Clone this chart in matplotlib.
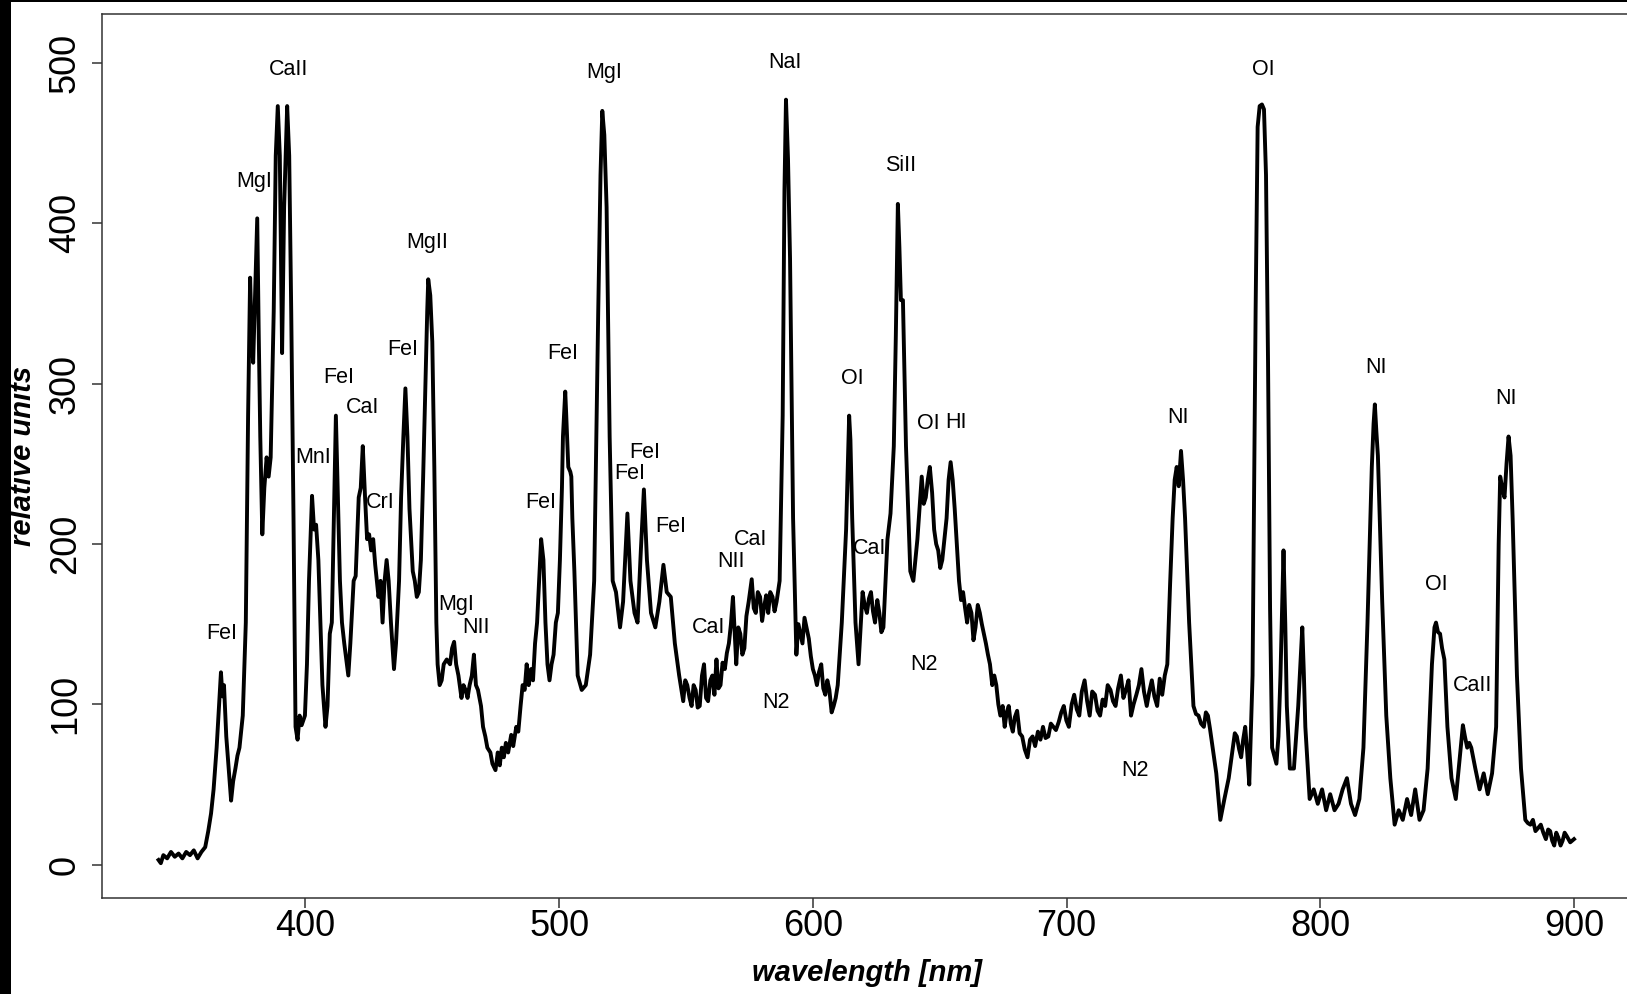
import matplotlib
matplotlib.use("Agg")
import matplotlib.pyplot as plt
from matplotlib.patches import Rectangle

plt.rcParams['font.family'] = ['Liberation Sans', 'DejaVu Sans']

wavelength = [
    342.1, 343.0, 344.0, 345.5, 347.0, 348.5, 350.0, 351.5, 353.0, 354.5, 356.0, 357.5, 359.0, 360.5,
    361.7, 362.8, 363.8, 365.0, 366.0, 366.7, 367.3, 367.9, 368.8, 370.0, 370.7, 371.5, 372.4, 373.2,
    374.0, 375.3, 376.5, 377.4, 378.2, 378.8, 379.4, 380.2, 381.0, 381.6, 382.2, 383.0, 383.8, 384.7,
    385.5, 386.3, 387.5, 388.3, 389.1, 389.9, 390.8, 391.6, 392.8, 393.6, 394.4, 395.3, 396.1, 396.9,
    397.7, 398.5, 399.8, 400.6, 401.4, 402.6, 403.4, 404.2, 405.1, 405.9, 406.7, 407.9, 408.7, 409.6,
    410.4, 411.2, 412.0, 412.8, 413.6, 414.4, 415.3, 416.1, 416.9, 417.7, 419.0, 419.8, 421.0, 421.8,
    422.6, 423.5, 424.3, 425.1, 425.9, 426.7, 427.5, 428.8, 429.6, 430.4, 431.2, 432.0, 432.8, 433.7,
    434.9, 435.7, 436.9, 437.7, 438.6, 439.4, 440.2, 441.0, 442.3, 443.1, 443.9, 444.7, 445.5, 446.4,
    447.2, 448.0, 448.4, 449.2, 450.0, 450.8, 451.6, 452.1, 452.9, 453.7, 454.5, 455.7, 457.0, 457.8,
    458.6, 459.4, 460.3, 461.5, 462.3, 463.1, 463.9, 464.7, 465.6, 466.4, 467.2, 468.0, 469.2, 470.0,
    470.9, 471.7, 472.9, 473.7, 474.9, 475.8, 476.6, 477.4, 478.2, 479.0, 479.9, 481.1, 481.9, 483.1,
    483.9, 484.8, 485.6, 486.4, 487.2, 488.0, 488.9, 489.7, 490.5, 491.3, 492.1, 492.9, 493.8, 494.6,
    495.4, 496.2, 497.0, 497.8, 498.7, 499.5, 500.3, 501.1, 501.5, 502.4, 502.8, 503.6, 504.4, 504.8,
    505.2, 506.0, 507.3, 508.9, 510.5, 512.2, 513.8, 515.4, 516.3, 517.0, 517.8, 518.7, 519.9, 521.1,
    522.4, 524.0, 525.2, 526.9, 528.1, 529.7, 530.9, 532.2, 533.4, 534.6, 536.2, 537.9, 539.5, 541.1,
    542.4, 544.0, 545.6, 547.3, 548.9, 549.7, 550.5, 551.4, 552.2, 553.0, 553.8, 554.6, 555.4, 556.3,
    557.1, 557.9, 558.7, 559.6, 560.4, 561.2, 562.0, 562.8, 563.6, 564.4, 565.3, 566.1, 566.9, 567.7,
    568.5, 569.8, 570.6, 571.4, 572.2, 573.0, 573.8, 574.7, 575.9, 576.7, 577.5, 578.3, 579.2, 580.0,
    580.8, 581.6, 582.4, 583.2, 584.1, 584.9, 585.7, 586.9, 588.1, 588.8, 589.4, 590.2, 591.0, 592.2,
    593.5, 594.3, 595.1, 595.9, 596.7, 597.5, 598.4, 599.2, 600.0, 600.8, 601.6, 602.4, 603.3, 604.1,
    604.9, 605.7, 606.5, 607.4, 608.2, 609.0, 609.8, 611.4, 613.1, 614.3, 614.8, 615.5, 616.8, 618.0,
    619.6, 620.4, 621.3, 622.1, 622.9, 623.7, 624.5, 625.4, 626.2, 627.0, 627.8, 629.4, 630.6, 631.9,
    632.7, 633.5, 634.1, 634.7, 635.5, 636.7, 638.4, 639.6, 640.4, 641.2, 642.9, 643.7, 644.5, 645.3,
    646.1, 647.0, 647.8, 648.6, 649.4, 650.2, 651.0, 652.7, 653.5, 654.3, 655.1, 655.9, 657.6, 658.4,
    659.2, 660.0, 660.8, 661.6, 662.5, 663.3, 664.1, 665.0, 665.8, 666.6, 667.4, 668.2, 669.0, 669.8,
    670.7, 671.5, 672.3, 673.1, 673.9, 674.8, 675.6, 676.4, 677.2, 678.0, 678.8, 679.6, 680.5, 681.5,
    682.5, 683.5, 684.6, 685.6, 686.6, 687.6, 688.7, 689.7, 690.7, 691.7, 692.8, 693.8, 694.8, 695.8,
    696.9, 697.9, 698.9, 699.9, 700.9, 702.0, 703.0, 704.0, 705.0, 706.0, 707.1, 708.1, 709.1, 710.1,
    711.2, 712.2, 713.2, 714.2, 715.2, 716.2, 717.3, 718.3, 719.3, 720.3, 721.4, 722.4, 723.4, 724.4,
    725.4, 726.4, 727.5, 728.5, 729.5, 730.5, 731.6, 732.6, 733.6, 734.6, 735.7, 736.7, 737.7, 738.7,
    739.7, 740.8, 741.8, 742.6, 743.4, 744.2, 745.1, 745.9, 746.7, 748.3, 750.0, 751.0, 752.0, 753.0,
    754.1, 754.9, 755.7, 756.5, 757.3, 759.0, 760.6, 762.2, 763.9, 765.5, 766.3, 767.1, 768.0, 768.8,
    769.6, 770.4, 771.2, 772.0, 773.3, 774.5, 775.3, 776.1, 777.0, 777.8, 778.6, 779.4, 780.2, 781.0,
    782.7, 783.5, 784.3, 785.0, 785.5, 786.2, 786.8, 788.0, 789.6, 791.3, 792.3, 792.9, 793.5, 794.1,
    795.8, 797.4, 799.0, 800.7, 802.3, 803.9, 805.6, 807.2, 808.8, 810.5, 812.1, 813.7, 815.4, 817.0,
    818.6, 820.3, 821.0, 821.5, 822.1, 822.7, 824.4, 826.0, 827.6, 829.3, 830.9, 832.5, 834.2, 835.8,
    837.4, 839.1, 840.7, 842.3, 844.0, 845.0, 845.6, 846.4, 847.2, 848.0, 848.9, 850.1, 851.7, 853.4,
    855.0, 856.2, 857.0, 857.9, 858.7, 859.5, 861.1, 862.8, 864.4, 866.0, 867.7, 869.3, 870.3, 870.9,
    871.7, 872.6, 873.4, 874.2, 875.0, 875.8, 877.5, 879.1, 880.8, 881.8, 882.8, 883.8, 884.8, 885.9,
    886.9, 887.9, 888.9, 889.8, 890.6, 891.4, 892.2, 893.0, 893.8, 894.7, 895.5, 896.3, 897.1, 898.5,
    900.0,
]

intensity = [
    3, 1, 6, 4, 8, 5, 7, 4, 8, 6, 9, 4, 8, 11,
    21, 32, 47, 73, 100, 120, 105, 112, 80, 55, 40, 52, 60, 68,
    73, 93, 151, 280, 366, 330, 313, 358, 403, 330, 267, 206, 235, 254,
    242, 254, 345, 442, 473, 442, 319, 410, 473, 442, 345, 216, 86, 78,
    93, 87, 93, 125, 177, 230, 209, 212, 190, 151, 112, 86, 99, 144,
    151, 216, 280, 229, 177, 151, 138, 128, 118, 138, 177, 180, 229, 235,
    261, 229, 203, 206, 196, 203, 187, 167, 177, 151, 177, 190, 177, 151,
    122, 138, 177, 229, 267, 297, 267, 222, 183, 177, 167, 170, 190, 242,
    293, 345, 365, 355, 326, 248, 151, 125, 112, 115, 125, 128, 125, 135,
    139, 125, 118, 104, 112, 109, 104, 112, 118, 131, 112, 109, 99, 86,
    80, 73, 70, 63, 59, 70, 62, 73, 67, 76, 70, 81, 74, 86,
    83, 99, 112, 109, 125, 112, 122, 115, 138, 151, 177, 203, 190, 151,
    125, 115, 125, 131, 151, 157, 190, 235, 267, 295, 280, 248, 245, 242,
    216, 183, 118, 109, 112, 131, 177, 345, 430, 470, 455, 410, 267, 177,
    170, 148, 164, 219, 177, 157, 151, 196, 234, 190, 157, 148, 164, 187,
    170, 167, 138, 118, 102, 115, 112, 104, 99, 112, 109, 98, 99, 118,
    125, 104, 102, 115, 118, 106, 128, 110, 112, 126, 122, 132, 138, 150,
    167, 125, 148, 144, 131, 135, 155, 164, 178, 160, 157, 170, 167, 152,
    161, 168, 157, 170, 167, 158, 164, 177, 280, 420, 477, 440, 378, 216,
    131, 150, 144, 138, 154, 148, 141, 130, 122, 118, 112, 120, 125, 110,
    106, 115, 109, 95, 99, 104, 112, 151, 209, 280, 265, 216, 151, 125,
    170, 162, 157, 166, 170, 158, 151, 165, 157, 145, 148, 203, 219, 261,
    330, 412, 385, 352, 352, 261, 183, 177, 190, 203, 242, 225, 229, 240,
    248, 232, 209, 200, 196, 185, 190, 216, 240, 251, 240, 222, 177, 165,
    170, 160, 151, 162, 157, 140, 148, 162, 157, 150, 144, 138, 131, 125,
    112, 118, 112, 100, 93, 99, 86, 95, 99, 88, 83, 92, 96, 82,
    80, 72, 67, 78, 80, 74, 83, 78, 86, 79, 80, 88, 86, 84,
    89, 95, 99, 90, 86, 100, 106, 97, 93, 108, 115, 102, 93, 108,
    106, 96, 93, 103, 99, 112, 109, 102, 99, 110, 118, 104, 109, 115,
    93, 100, 106, 112, 122, 108, 99, 108, 115, 105, 99, 116, 106, 118,
    125, 175, 216, 240, 248, 236, 258, 240, 216, 151, 99, 94, 93, 88,
    86, 95, 93, 85, 76, 57, 28, 41, 54, 73, 82, 80, 72, 67,
    78, 86, 70, 50, 118, 345, 460, 473, 474, 471, 430, 313, 160, 73,
    63, 80, 118, 165, 196, 150, 99, 60, 60, 99, 130, 148, 120, 86,
    41, 47, 38, 47, 34, 44, 34, 38, 47, 54, 38, 31, 41, 73,
    151, 248, 275, 287, 270, 255, 164, 93, 54, 25, 34, 28, 41, 31,
    47, 28, 34, 60, 125, 148, 151, 145, 144, 135, 128, 86, 54, 41,
    67, 87, 80, 73, 76, 73, 60, 47, 57, 44, 57, 86, 200, 242,
    235, 229, 250, 267, 255, 216, 118, 60, 28, 26, 25, 28, 21, 23,
    25, 20, 16, 22, 21, 15, 12, 20, 17, 12, 15, 20, 18, 14,
    16,
]

ann_text = ["FeI", "MgI", "CaII", "MgII", "FeI", "FeI", "CaI", "MnI", "CrI", "MgI", "NII",
            "FeI", "FeI", "MgI", "FeI", "FeI", "FeI", "NII", "CaI", "CaI", "NaI", "N2",
            "OI", "CaI", "SiII", "OI", "HI", "N2", "NI", "N2", "OI", "NI", "NI", "OI", "CaII"]
ann_x = [367.1, 379.8, 393.2, 448.0, 438.2, 413.2, 422.6, 403.0, 429.6, 459.5, 467.3,
         501.6, 492.6, 517.9, 533.8, 527.7, 544.1, 567.8, 575.5, 558.7, 589.0, 585.3,
         615.6, 622.5, 634.7, 645.4, 656.4, 643.7, 743.9, 727.1, 777.4, 822.0, 873.0, 845.6, 859.9]
ann_y = [144, 426, 496, 388, 321, 304, 285, 254, 226, 162, 148,
         319, 226, 494, 257, 244, 211, 189, 203, 148, 500, 101,
         303, 197, 436, 275, 276, 125, 279, 59, 496, 310, 291, 175, 112]

xticks = [400, 500, 600, 700, 800, 900]
yticks = [0, 100, 200, 300, 400, 500]

W, H = 1627, 994
fig = plt.figure(figsize=(W / 100, H / 100), dpi=100, facecolor='black')
fig.patches.append(Rectangle((11 / W, 0), 1, 1 - 2 / H, transform=fig.transFigure,
                             facecolor='white', edgecolor='none', zorder=-10))

ax = fig.add_axes([101.7 / W, 1 - 897.5 / H, (1630.6 - 101.7) / W, (897.5 - 14) / H])
ax.set_facecolor('white')
ax.plot(wavelength, intensity, color='black', lw=2.8, solid_joinstyle='round')

for t, x, y in zip(ann_text, ann_x, ann_y):
    ax.text(x, y, t, ha='center', va='center', fontsize=15.5, color='black')

ax.set_xlim(319.7, 922.3)
ax.set_ylim(-20.4, 530.4)
ax.set_xticks(xticks)
ax.set_yticks(yticks)
ax.set_xticklabels([str(v) for v in xticks])
ax.set_yticklabels([str(v) for v in yticks], rotation=90, va='center', ha='right')
ax.tick_params(axis='both', direction='out', length=7.5, width=1.1, color='#333333',
               labelsize=26, labelcolor='black')
ax.tick_params(axis='x', pad=1)
ax.tick_params(axis='y', pad=6)
for s in ax.spines.values():
    s.set_color('#333333')
    s.set_linewidth(1.1)

fig.text(866.5 / W, 1 - 973 / H, 'wavelength [nm]', ha='center', va='center',
         fontsize=21, fontweight='bold', fontstyle='italic')
fig.text(23 / W, 1 - 456 / H, 'relative units', ha='center', va='center', rotation=90,
         fontsize=21, fontweight='bold', fontstyle='italic')

fig.savefig('out.png', dpi=100, facecolor=fig.get_facecolor())
